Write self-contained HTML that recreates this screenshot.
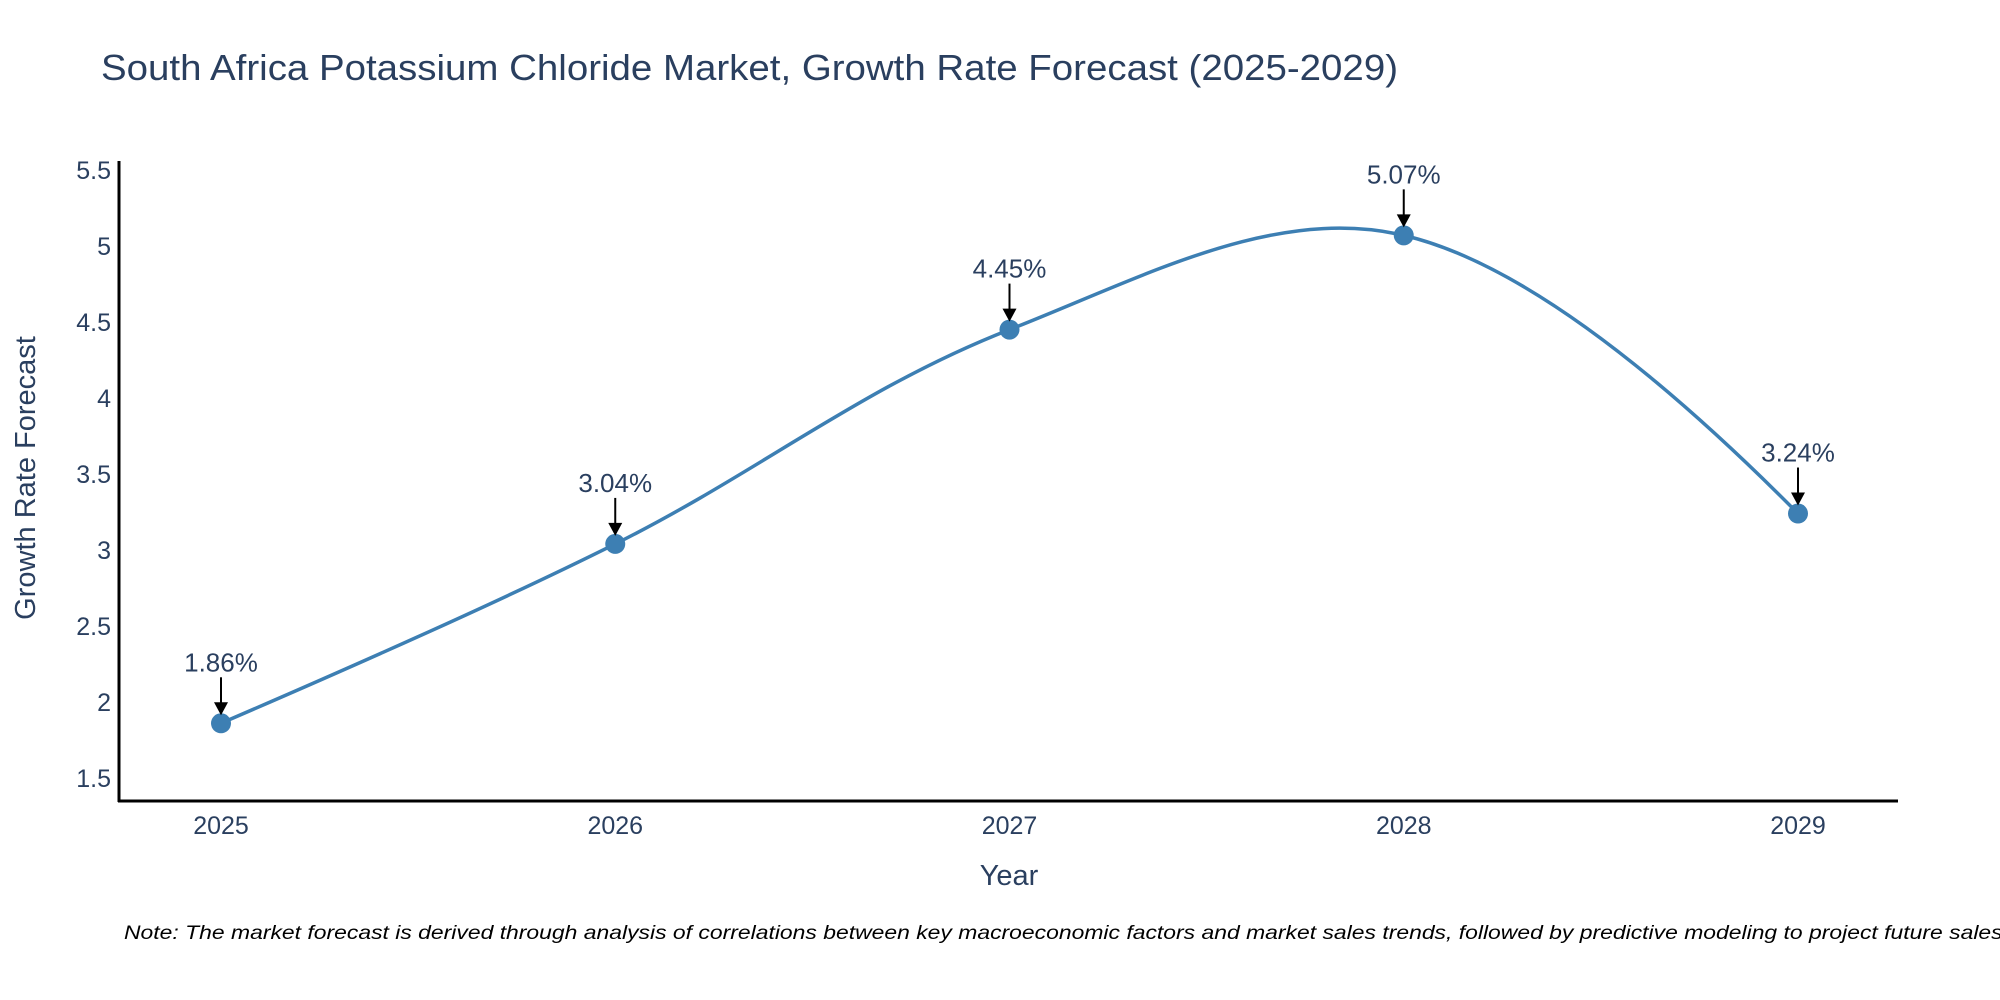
<!DOCTYPE html>
<html><head><meta charset="utf-8">
<style>
html,body{margin:0;padding:0;background:#fff;}
svg{display:block;font-family:"Liberation Sans",Arial,sans-serif;}
</style></head>
<body>
<svg id="chart" width="2000" height="1000" viewBox="0 0 2000 1000">
  <text x="101" y="80" font-size="36" fill="#2a3f5f" textLength="1297" lengthAdjust="spacingAndGlyphs">South Africa Potassium Chloride Market, Growth Rate Forecast (2025-2029)</text>
  <g id="yticks"></g>
  <g id="xticks"></g>
  <line x1="119" y1="161" x2="119" y2="802" stroke="#000" stroke-width="3"/>
  <line x1="118" y1="801" x2="1898" y2="801" stroke="#000" stroke-width="3"/>
  <path id="curve" fill="none" stroke="#3d7fb3" stroke-width="3.5"/>
  <g id="points"></g>
  <g id="annots"></g>
  <text x="1009" y="885" font-size="29" fill="#2a3f5f" text-anchor="middle">Year</text>
  <text x="0" y="0" font-size="29" fill="#2a3f5f" text-anchor="middle" transform="translate(35,478) rotate(-90)">Growth Rate Forecast</text>
  <text x="124" y="939" font-size="19" font-style="italic" fill="#000" textLength="1885" lengthAdjust="spacingAndGlyphs">Note: The market forecast is derived through analysis of correlations between key macroeconomic factors and market sales trends, followed by predictive modeling to project future sales.</text>
</svg>
<script>
const categories = [2025, 2026, 2027, 2028, 2029];
const values = [1.86, 3.04, 4.45, 5.07, 3.24];
const valueLabels = ["1.86%", "3.04%", "4.45%", "5.07%", "3.24%"];
const yTickValues = [1.5, 2, 2.5, 3, 3.5, 4, 4.5, 5, 5.5];
const yTickLabels = ["1.5", "2", "2.5", "3", "3.5", "4", "4.5", "5", "5.5"];

const NS = "http://www.w3.org/2000/svg";
function xScale(c){ return 221 + (c - categories[0]) * (1798 - 221) / (categories[categories.length-1] - categories[0]); }
function yScale(v){ return 778 - (v - 1.5) * (778 - 170) / 4; }
function mk(tag, attrs, parent){ const e=document.createElementNS(NS,tag); for(const k in attrs) e.setAttribute(k,attrs[k]); parent.appendChild(e); return e; }

const yg=document.getElementById('yticks');
yTickValues.forEach((v,i)=>{
  const t=mk('text',{x:111,y:yScale(v)+9,'font-size':25,fill:'#2a3f5f','text-anchor':'end'},yg);
  t.textContent=yTickLabels[i];
  
  
});
const xg=document.getElementById('xticks');
categories.forEach(c=>{
  const t=mk('text',{x:xScale(c),y:834,'font-size':25,fill:'#2a3f5f','text-anchor':'middle'},xg);
  t.textContent=String(c);
  
  
});

const pts=categories.map((c,i)=>[xScale(c),yScale(values[i])]);
const s=0.36;
const cps=pts.map((p,i)=>{
  if(i===0||i===pts.length-1) return null;
  const a=pts[i-1], b=pts[i+1];
  const d1=Math.hypot(p[0]-a[0],p[1]-a[1]), d2=Math.hypot(b[0]-p[0],b[1]-p[1]);
  const dx=b[0]-a[0], dy=b[1]-a[1];
  const f1=s*d1/(d1+d2), f2=s*d2/(d1+d2);
  return [[p[0]-dx*f1,p[1]-dy*f1],[p[0]+dx*f2,p[1]+dy*f2]];
});
let d=`M${pts[0][0]},${pts[0][1]}`;
for(let i=1;i<pts.length;i++){
  const p=pts[i];
  if(i===1) d+=` Q${cps[1][0][0]},${cps[1][0][1]} ${p[0]},${p[1]}`;
  else if(i===pts.length-1) d+=` Q${cps[i-1][1][0]},${cps[i-1][1][1]} ${p[0]},${p[1]}`;
  else d+=` C${cps[i-1][1][0]},${cps[i-1][1][1]} ${cps[i][0][0]},${cps[i][0][1]} ${p[0]},${p[1]}`;
}
document.getElementById('curve').setAttribute('d',d);

const pg=document.getElementById('points'), ag=document.getElementById('annots');
pts.forEach((p,i)=>{
  const c=mk('circle',{cx:p[0],cy:p[1],r:10,fill:'#3d7fb3'},pg);
  
  
  const l=mk('line',{x1:p[0],y1:p[1]-46,x2:p[0],y2:p[1]-16,stroke:'#000','stroke-width':2},ag);
  
  
  const h=mk('polygon',{points:`${p[0]-7},${p[1]-21} ${p[0]+7},${p[1]-21} ${p[0]},${p[1]-8}`,fill:'#000'},ag);
  
  
  const t=mk('text',{x:p[0],y:p[1]-52,'font-size':26,fill:'#2a3f5f','text-anchor':'middle'},ag);
  t.textContent=valueLabels[i];
  
  
});
</script>
</body></html>
